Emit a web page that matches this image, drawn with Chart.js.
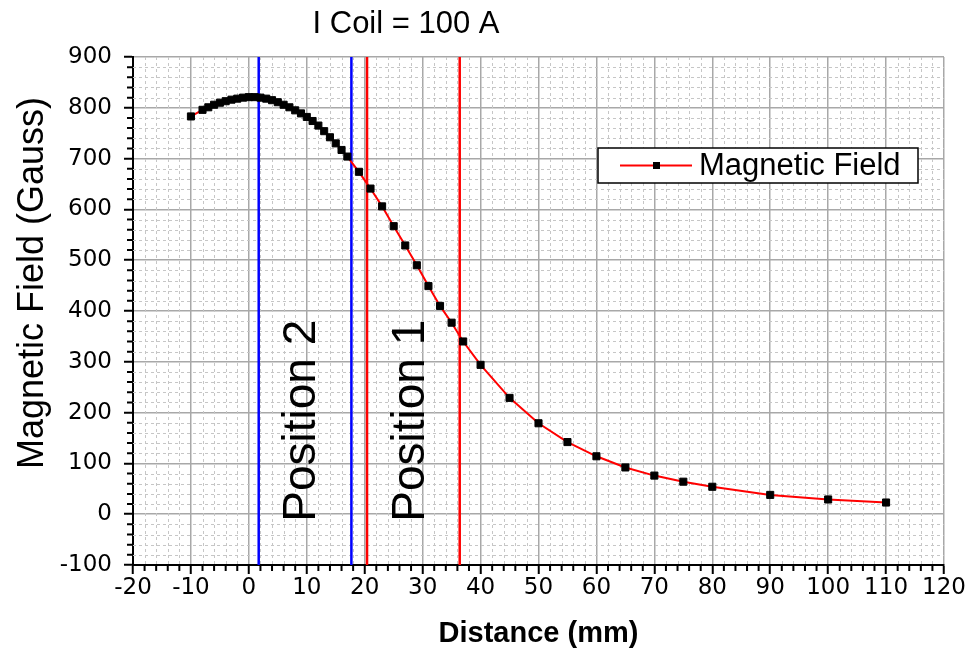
<!DOCTYPE html>
<html>
<head>
<meta charset="utf-8">
<script src="https://cdn.jsdelivr.net/npm/chart.js@4.4.1/dist/chart.umd.min.js"></script>
<style>
  html, body { margin: 0; padding: 0; background: #fff; }
</style>
</head>
<body>
<canvas id="c" width="978" height="651"></canvas>
<script>
// measured field along the axis, I coil = 100 A
var distance = [-10, -8, -7, -6, -5, -4, -3, -2, -1, 0, 1, 2, 3, 4, 5, 6, 7, 8, 9, 10,
                11, 12, 13, 14, 15, 16, 17, 19, 21, 23, 25, 27, 29, 31, 33, 35, 37,
                40, 45, 50, 55, 60, 65, 70, 75, 80, 90, 100, 110];
var field = [783, 796, 801, 806, 810, 813, 816, 818, 820, 821, 821, 820, 818, 815, 811, 806, 801, 795, 789, 782,
             774, 765, 754, 742, 730, 717, 704, 674, 641, 606, 567, 529, 490, 449, 410, 377, 340,
             294, 229, 179, 142, 114, 92, 76, 64, 54, 38, 29, 23];

// marker lines for the two probe positions
var position2 = [1.7, 17.7];
var position1 = [20.4, 36.4];
var yRange = [-100, 900];

var FONT = '"Liberation Sans", Arial, sans-serif';
var WIDE = '"DejaVu Sans", Verdana, sans-serif';

function points(xs, ys) {
    var out = [];
    for (var i = 0; i < xs.length; i++) out.push({ x: xs[i], y: ys[i] });
    return out;
}

function vline(x, color) {
    return {
        label: '',
        data: [{ x: x, y: yRange[0] }, { x: x, y: yRange[1] }],
        borderColor: color,
        borderWidth: 2.5,
        pointRadius: 0,
        showLine: true,
        fill: false
    };
}

var minorGrid = {
    id: 'minorGrid',
    beforeDatasetsDraw: function (chart) {
        var ctx = chart.ctx, xs = chart.scales.x, ys = chart.scales.y, a = chart.chartArea;
        var v, p;
        ctx.save();
        ctx.strokeStyle = '#c6c6c6';
        ctx.lineWidth = 1;
        ctx.setLineDash([3, 3]);
        ctx.beginPath();
        for (v = -20; v <= 120; v += 2) {
            if (v % 10 === 0) continue;
            p = Math.round(xs.getPixelForValue(v)) + 0.5;
            ctx.moveTo(p, a.top); ctx.lineTo(p, a.bottom);
        }
        for (v = -100; v <= 900; v += 20) {
            if (v % 100 === 0) continue;
            p = Math.round(ys.getPixelForValue(v)) + 0.5;
            ctx.moveTo(a.left, p); ctx.lineTo(a.right, p);
        }
        ctx.stroke();
        ctx.setLineDash([]);
        // minor ticks
        ctx.strokeStyle = '#000';
        ctx.lineWidth = 2;
        ctx.beginPath();
        for (v = -20; v <= 120; v += 2) {
            if (v % 10 === 0) continue;
            p = xs.getPixelForValue(v);
            ctx.moveTo(p, a.bottom); ctx.lineTo(p, a.bottom + 6);
        }
        for (v = -100; v <= 900; v += 20) {
            if (v % 100 === 0) continue;
            p = ys.getPixelForValue(v);
            ctx.moveTo(a.left, p); ctx.lineTo(a.left - 6, p);
        }
        ctx.stroke();
        ctx.restore();
    }
};

var annotations = {
    id: 'annotations',
    afterDatasetsDraw: function (chart) {
        var ctx = chart.ctx, xs = chart.scales.x, ys = chart.scales.y, a = chart.chartArea;
        ctx.save();
        ctx.fillStyle = '#000';
        ctx.font = '46px ' + FONT;
        ctx.textAlign = 'center';
        ctx.textBaseline = 'alphabetic';
        [['Position 2', 11.35], ['Position 1', 30.3]].forEach(function (t) {
            ctx.save();
            ctx.translate(xs.getPixelForValue(t[1]), ys.getPixelForValue(184));
            ctx.rotate(-Math.PI / 2);
            ctx.fillText(t[0], 0, 0);
            ctx.restore();
        });

        // y axis title (sits a bit above the middle in the original)
        ctx.save();
        ctx.font = '36px ' + FONT;
        ctx.translate(43, 283);
        ctx.rotate(-Math.PI / 2);
        ctx.fillText('Magnetic Field (Gauss)', 0, 0);
        ctx.restore();

        // title
        ctx.font = '31px ' + FONT;
        ctx.fillText('I Coil = 100 A', 406, 33);

        // legend box
        var ds = chart.data.datasets[0];
        var bx = a.left + 465, by = a.top + 91, bw = 320, bh = 35;
        ctx.fillStyle = '#fff';
        ctx.fillRect(bx, by, bw, bh);
        ctx.strokeStyle = '#000';
        ctx.lineWidth = 1.5;
        ctx.strokeRect(bx, by, bw, bh);
        var cy = by + bh / 2;
        ctx.strokeStyle = ds.borderColor;
        ctx.lineWidth = 2;
        ctx.beginPath();
        ctx.moveTo(bx + 22, cy); ctx.lineTo(bx + 94, cy);
        ctx.stroke();
        ctx.fillStyle = '#000';
        ctx.fillRect(bx + 55, cy - 3.5, 7, 7);
        ctx.font = '31px ' + FONT;
        ctx.textAlign = 'left';
        ctx.textBaseline = 'middle';
        ctx.fillText(ds.label, bx + 101, cy + 1);
        ctx.restore();
    }
};

new Chart(document.getElementById('c'), {
    type: 'scatter',
    data: {
        datasets: [
            {
                label: 'Magnetic Field',
                data: points(distance, field),
                showLine: true,
                borderColor: '#ff0000',
                borderWidth: 2,
                tension: 0,
                pointStyle: 'rect',
                pointRadius: 5,
                pointBackgroundColor: '#000',
                pointBorderColor: '#000',
                pointBorderWidth: 1
            },
            vline(position2[0], '#0000ff'),
            vline(position2[1], '#0000ff'),
            vline(position1[0], '#ff0000'),
            vline(position1[1], '#ff0000')
        ]
    },
    options: {
        responsive: false,
        animation: false,
        layout: { padding: { top: 57, right: 34, left: 0, bottom: 0 } },
        plugins: {
            legend: { display: false },
            tooltip: { enabled: false }
        },
        scales: {
            x: {
                type: 'linear',
                min: -20,
                max: 120,
                afterFit: function (s) { s.height = 86; },
                ticks: {
                    stepSize: 10,
                    autoSkip: false,
                    maxRotation: 0,
                    padding: 0,
                    color: '#000',
                    font: { family: WIDE, size: 23 }
                },
                grid: {
                    color: '#a8a8a8',
                    lineWidth: 1.5,
                    tickColor: '#000',
                    tickWidth: 2,
                    tickLength: 9
                },
                border: { color: '#000', width: 2 },
                title: {
                    display: true,
                    text: 'Distance (mm)',
                    color: '#000',
                    font: { family: FONT, size: 29, weight: 'bold' },
                    padding: { top: 0, bottom: 0 }
                }
            },
            y: {
                min: -100,
                max: 900,
                afterFit: function (s) { s.width = 133; },
                ticks: {
                    stepSize: 100,
                    padding: 12,
                    color: '#000',
                    font: { family: WIDE, size: 23 }
                },
                grid: {
                    color: '#a8a8a8',
                    lineWidth: 1.5,
                    tickColor: '#000',
                    tickWidth: 2,
                    tickLength: 9
                },
                border: { color: '#000', width: 2 }
            }
        }
    },
    plugins: [minorGrid, annotations]
});
</script>
</body>
</html>
